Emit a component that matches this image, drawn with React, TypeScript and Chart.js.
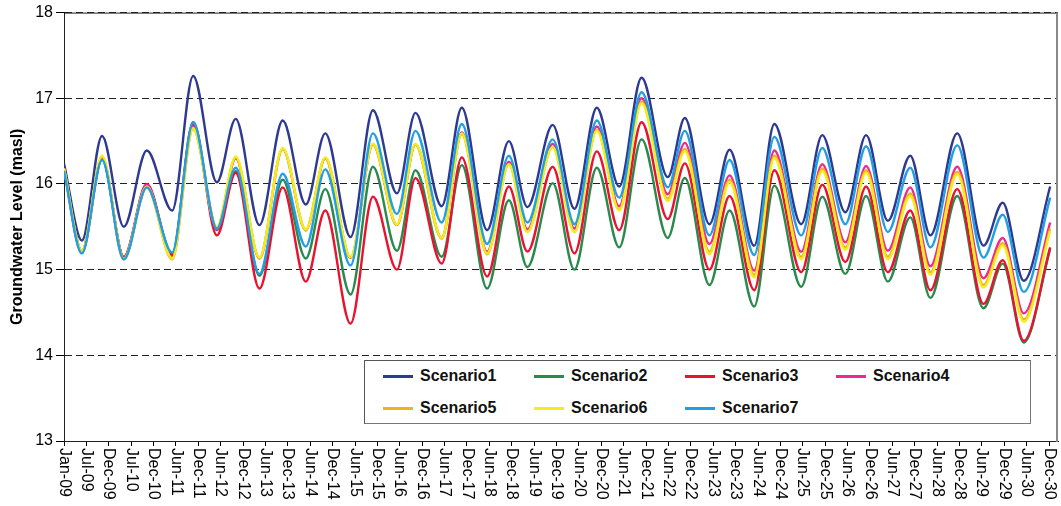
import React, { useEffect, useRef } from 'react';
import { Chart, registerables } from 'chart.js';

Chart.register(...registerables);

const FONT = '"Liberation Sans", Arial, sans-serif';

const tickLabels = [
  'Jan-09', 'Jul-09', 'Dec-09', 'Jul-10', 'Dec-10', 'Jun-11', 'Dec-11', 'Jun-12', 'Dec-12',
  'Jun-13', 'Dec-13', 'Jun-14', 'Dec-14', 'Jun-15', 'Dec-15', 'Jun-16', 'Dec-16', 'Jun-17',
  'Dec-17', 'Jun-18', 'Dec-18', 'Jun-19', 'Dec-19', 'Jun-20', 'Dec-20', 'Jun-21', 'Dec-21',
  'Jun-22', 'Dec-22', 'Jun-23', 'Dec-23', 'Jun-24', 'Dec-24', 'Jun-25', 'Dec-25', 'Jun-26',
  'Dec-26', 'Jun-27', 'Dec-27', 'Jun-28', 'Dec-28', 'Jun-29', 'Dec-29', 'Jun-30', 'Dec-30',
];

// time of each reading, in label-interval units (0 = Jan-09, 44 = Dec-30)
const readingTimes = [
  0, 0.8, 1.7, 2.67, 3.7, 4.83, 5.77, 6.83, 7.67, 8.73, 9.77, 10.8, 11.67, 12.8, 13.8,
  14.87, 15.7, 16.87, 17.77, 18.9, 19.87, 20.7, 21.83, 22.8, 23.8, 24.8, 25.8, 26.97,
  27.73, 28.83, 29.73, 30.83, 31.73, 32.93, 33.87, 34.9, 35.83, 36.8, 37.8, 38.7, 39.9,
  41.07, 41.93, 42.87, 44.05,
];

const scenario1 = [
  16.24, 15.34, 16.56, 15.5, 16.39, 15.69, 17.26, 16.02, 16.76, 15.52, 16.74, 15.76, 16.59,
  15.38, 16.86, 15.89, 16.83, 15.74, 16.89, 15.46, 16.5, 15.73, 16.69, 15.71, 16.89, 15.97,
  17.24, 16.08, 16.77, 15.53, 16.4, 15.28, 16.7, 15.53, 16.57, 15.67, 16.57, 15.57, 16.33,
  15.4, 16.59, 15.28, 15.78, 14.87, 15.97,
];
const scenario2 = [
  16.18, 15.22, 16.3, 15.14, 15.97, 15.18, 16.7, 15.46, 16.15, 14.93, 16.05, 15.13, 15.94,
  14.71, 16.2, 15.22, 16.16, 15.15, 16.22, 14.78, 15.81, 15.03, 16.01, 15.0, 16.19, 15.26,
  16.52, 15.37, 16.07, 14.82, 15.69, 14.57, 15.98, 14.8, 15.85, 14.95, 15.86, 14.86, 15.61,
  14.67, 15.86, 14.55, 15.07, 14.15, 15.24,
];
const scenario3 = [
  16.18, 15.2, 16.29, 15.15, 16.0, 15.17, 16.72, 15.4, 16.13, 14.78, 15.96, 14.86, 15.69,
  14.37, 15.85, 15.0, 16.07, 15.07, 16.31, 14.92, 15.97, 15.21, 16.2, 15.19, 16.38, 15.46,
  16.72, 15.59, 16.24, 15.0, 15.86, 14.76, 16.16, 14.97, 15.99, 15.09, 15.97, 14.97, 15.69,
  14.76, 15.94, 14.6, 15.11, 14.17, 15.26,
];
const scenario4 = [
  16.18, 15.21, 16.31, 15.13, 15.99, 15.14, 16.68, 15.47, 16.3, 15.13, 16.41, 15.46, 16.3,
  15.14, 16.46, 15.52, 16.46, 15.37, 16.6, 15.21, 16.26, 15.47, 16.47, 15.48, 16.67, 15.74,
  17.0, 15.88, 16.48, 15.3, 16.1, 14.99, 16.39, 15.21, 16.23, 15.32, 16.21, 15.22, 15.96,
  15.04, 16.2, 14.9, 15.37, 14.49, 15.55,
];
const scenario5 = [
  16.18, 15.21, 16.32, 15.12, 15.96, 15.12, 16.64, 15.49, 16.31, 15.13, 16.41, 15.46, 16.3,
  15.14, 16.46, 15.52, 16.46, 15.36, 16.58, 15.18, 16.23, 15.44, 16.43, 15.44, 16.63, 15.7,
  16.96, 15.83, 16.41, 15.21, 16.05, 14.94, 16.33, 15.15, 16.18, 15.26, 16.16, 15.15, 15.89,
  14.97, 16.14, 14.82, 15.31, 14.42, 15.48,
];
const scenario6 = [
  16.18, 15.22, 16.33, 15.13, 15.97, 15.13, 16.65, 15.5, 16.32, 15.14, 16.42, 15.47, 16.31,
  15.15, 16.47, 15.53, 16.47, 15.37, 16.59, 15.19, 16.23, 15.44, 16.43, 15.44, 16.62, 15.69,
  16.94, 15.8, 16.38, 15.18, 16.02, 14.91, 16.3, 15.12, 16.15, 15.23, 16.13, 15.12, 15.86,
  14.94, 16.11, 14.79, 15.28, 14.39, 15.45,
];
const scenario7 = [
  16.15, 15.19, 16.28, 15.12, 15.96, 15.2, 16.72, 15.48, 16.19, 14.95, 16.12, 15.27, 16.17,
  15.05, 16.59, 15.65, 16.62, 15.55, 16.7, 15.3, 16.33, 15.55, 16.52, 15.53, 16.74, 15.84,
  17.07, 15.96, 16.62, 15.4, 16.28, 15.17, 16.55, 15.4, 16.42, 15.53, 16.44, 15.44, 16.19,
  15.26, 16.45, 15.14, 15.64, 14.74, 15.84,
];

const seriesNames = ['Scenario1', 'Scenario2', 'Scenario3', 'Scenario4', 'Scenario5', 'Scenario6', 'Scenario7'];
const seriesValues = [scenario1, scenario2, scenario3, scenario4, scenario5, scenario6, scenario7];
const seriesColors = ['#2E3A92', '#2A8A4C', '#E8132F', '#EE2A8E', '#F0B21E', '#F2EE1C', '#219FE2'];

const framePlugin = {
  id: 'frame',
  beforeDatasetsDraw(chart: any) {
    const { ctx, chartArea: a } = chart;
    ctx.save();
    ctx.lineWidth = 1;
    ctx.strokeStyle = '#222';
    ctx.beginPath();
    ctx.moveTo(a.left + 0.5, a.bottom + 0.5);
    ctx.lineTo(a.left + 0.5, a.top + 0.5);
    ctx.lineTo(a.right, a.top + 0.5);
    ctx.moveTo(a.left, a.bottom + 0.5);
    ctx.lineTo(a.right, a.bottom + 0.5);
    ctx.stroke();
    ctx.strokeStyle = '#888';
    ctx.lineWidth = 2;
    ctx.beginPath();
    ctx.moveTo(a.right - 1, a.top);
    ctx.lineTo(a.right - 1, a.bottom + 1);
    ctx.stroke();
    ctx.restore();
  },
};

const xLabelPlugin = {
  id: 'xLabels',
  afterDraw(chart: any) {
    const { ctx, chartArea: a } = chart;
    const xs = chart.scales.x;
    ctx.save();
    ctx.font = `16px ${FONT}`;
    ctx.fillStyle = '#000';
    ctx.textAlign = 'left';
    ctx.textBaseline = 'middle';
    tickLabels.forEach((lab, i) => {
      const px = xs.getPixelForValue(i);
      ctx.save();
      ctx.translate(px, a.bottom + 7);
      ctx.rotate(Math.PI / 2);
      ctx.fillText(lab, 0, 0);
      ctx.restore();
    });
    ctx.restore();
  },
};

export default function App() {
  const ref = useRef<HTMLCanvasElement>(null);

  useEffect(() => {
    const canvas = ref.current;
    if (!canvas) return;
    const chart = new Chart(canvas, {
      type: 'line',
      data: {
        datasets: seriesValues.map((vals, i) => ({
          label: seriesNames[i],
          data: vals.map((v, j) => ({ x: readingTimes[j], y: v })),
          borderColor: seriesColors[i],
          backgroundColor: seriesColors[i],
          borderWidth: 2.4,
          pointRadius: 0,
          pointHoverRadius: 0,
          fill: false,
          cubicInterpolationMode: 'monotone',
          order: 6 - i,
        })),
      },
      options: {
        animation: false,
        responsive: true,
        maintainAspectRatio: false,
        layout: { padding: { top: 12, right: 3, left: 0, bottom: 0 } },
        plugins: { legend: { display: false }, tooltip: { enabled: false } },
        scales: {
          x: {
            type: 'linear',
            min: 0,
            max: 44.4,
            afterBuildTicks: (s: any) => {
              s.ticks = tickLabels.map((_, i) => ({ value: i }));
            },
            afterFit: (s: any) => {
              s.height = 65;
            },
            ticks: { display: false },
            grid: { drawOnChartArea: false, drawTicks: true, tickLength: 5, color: '#000' },
            border: { display: true, color: '#000' },
          },
          y: {
            min: 13,
            max: 18,
            afterFit: (s: any) => {
              s.width = 64;
            },
            ticks: { stepSize: 1, color: '#000', padding: 3, font: { family: FONT, size: 16 } },
            grid: { color: '#222', lineWidth: 1, tickLength: 8, tickColor: '#000' },
            border: { display: true, color: '#000', dash: [7, 4] },
            title: {
              display: true,
              text: 'Groundwater Level (masl)',
              color: '#000',
              font: { family: FONT, size: 16, weight: 'bold' },
              padding: { top: 8, bottom: 0 },
            },
          },
        },
      } as any,
      plugins: [framePlugin, xLabelPlugin],
    });
    return () => chart.destroy();
  }, []);

  return (
    <div style={{ position: 'fixed', left: 0, top: 0, width: 1061, height: 506, background: '#fff' }}>
      <canvas ref={ref} />
      <div
        style={{
          position: 'absolute',
          left: 364,
          top: 360,
          width: 667,
          height: 64,
          boxSizing: 'border-box',
          border: '1px solid #555',
          borderRightColor: '#777',
          borderBottomColor: '#777',
          background: '#fff',
        }}
      >
        {seriesNames.map((name, i) => {
          const col = i % 4;
          const row = Math.floor(i / 4);
          return (
            <div
              key={name}
              style={{
                position: 'absolute',
                left: 18 + col * 151,
                top: row === 0 ? 5 : 37,
                height: 20,
                display: 'flex',
                alignItems: 'center',
                whiteSpace: 'nowrap',
              }}
            >
              <span style={{ display: 'inline-block', width: 30, height: 3, background: seriesColors[i] }} />
              <span style={{ marginLeft: 7, font: `bold 16px ${FONT}`, color: '#111' }}>{name}</span>
            </div>
          );
        })}
      </div>
    </div>
  );
}
